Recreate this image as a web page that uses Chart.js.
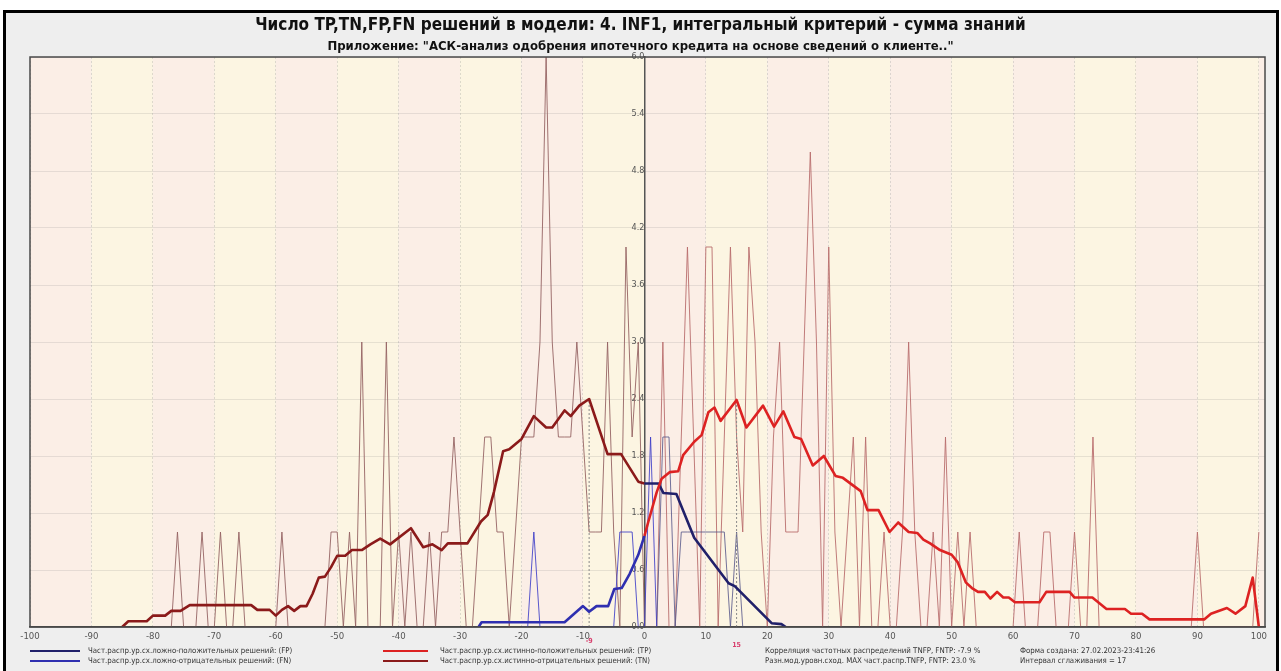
<!DOCTYPE html>
<html>
<head>
<meta charset="utf-8">
<script src="https://cdn.jsdelivr.net/npm/chart.js@4.4.1/dist/chart.umd.min.js"></script>
<style>
  html, body { margin: 0; padding: 0; background: #fff; }
  body { width: 1281px; height: 671px; position: relative; overflow: hidden;
         font-family: 'Liberation Sans Narrow', 'DejaVu Sans Condensed', 'Liberation Sans', sans-serif; }
  #frame { position: absolute; left: 3px; top: 10px; width: 1276px; height: 670px;
           border: 3px solid #000; border-bottom: none; background: #eeeeee; box-sizing: border-box; }
  #chart { position: absolute; left: 0; top: 0; }
  .title { position: absolute; left: 0; width: 1281px; text-align: center; font-weight: bold; color: #111; white-space: nowrap; }
  #t1 { top: 14px; font-size: 17px; }
  #t2 { top: 38px; font-size: 13px; }
  .leg { position: absolute; font-size: 7.8px; color: #333; white-space: nowrap; line-height: 10px; }
  .ln { position: absolute; height: 2px; }
</style>
</head>
<body>
<div id="frame"></div>
<canvas id="chart" width="1281" height="671"></canvas>
<div class="title" id="t1">Число TP,TN,FP,FN решений в модели: 4. INF1, интегральный критерий - сумма знаний</div>
<div class="title" id="t2">Приложение: "АСК-анализ одобрения ипотечного кредита на основе сведений о клиенте.."</div>

<div class="ln" style="left:30px;top:650px;width:50px;background:#20206a"></div>
<div class="ln" style="left:30px;top:660px;width:50px;background:#2f2fb0"></div>
<div class="leg" style="left:88px;top:646px">Част.распр.ур.сх.ложно-положительных решений: (FP)</div>
<div class="leg" style="left:88px;top:656px">Част.распр.ур.сх.ложно-отрицательных решений: (FN)</div>
<div class="ln" style="left:383px;top:650px;width:45px;background:#dd2222"></div>
<div class="ln" style="left:383px;top:660px;width:45px;background:#8b1a1a"></div>
<div class="leg" style="left:440px;top:646px">Част.распр.ур.сх.истинно-положительных решений: (TP)</div>
<div class="leg" style="left:440px;top:656px">Част.распр.ур.сх.истинно-отрицательных решений: (TN)</div>
<div class="leg" style="left:765px;top:646px">Корреляция частотных распределений TNFP, FNTP: -7.9 %</div>
<div class="leg" style="left:765px;top:656px">Разн.мод.уровн.сход. MAX част.распр.TNFP, FNTP: 23.0 %</div>
<div class="leg" style="left:1020px;top:646px">Форма создана: 27.02.2023-23:41:26</div>
<div class="leg" style="left:1020px;top:656px">Интервал сглаживания = 17</div>

<script>
// raw counts per integer level of similarity (thin lines)
const tnRawStart = -80;
const tnRaw = [
  0, 0, 0, 0, 1, 0, 0, 0, 1, 0,
  0, 1, 0, 0, 1, 0, 0, 0, 0, 0,
  0, 1, 0, 0, 0, 0, 0, 0, 0, 1,
  1, 0, 1, 0, 3, 0, 0, 0, 3, 0,
  1, 0, 1, 0, 0, 1, 0, 1, 1, 2,
  1, 0, 0, 1, 2, 2, 1, 1, 0, 1,
  2, 2, 2, 3, 6, 3, 2, 2, 2, 3,
  2, 1, 1, 1, 3, 1, 0, 4, 2, 3,
  0
];
const tpRawStart = 0;
const tpRaw = [
  0, 0, 0, 3, 0, 0, 2, 4, 2, 0,
  4, 4, 0, 2, 4, 2, 1, 4, 3, 1,
  0, 2, 3, 1, 1, 1, 3, 5, 3, 0,
  4, 1, 0, 1, 2, 0, 2, 0, 0, 1,
  0, 0, 1, 3, 1, 0, 0, 1, 0, 2,
  0, 1, 0, 1, 0, 0, 0, 0, 0, 0,
  0, 1, 0, 0, 0, 1, 1, 0, 0, 0,
  1, 0, 0, 2, 0, 0, 0, 0, 0, 0,
  0, 0, 0, 0, 0, 0, 0, 0, 0, 0,
  1, 0, 0, 0, 0, 0, 0, 0, 0, 0,
  1
];
const fnRawStart = -20;
const fnRaw = [0, 0, 1, 0, 0, 0, 0, 0, 0, 0, 0, 0, 0, 0, 0, 0, 1, 1, 1, 0, 0, 2, 0];
const fpRawStart = 0;
const fpRaw = [0, 0, 0, 2, 2, 0, 1, 1, 1, 1, 1, 1, 1, 1, 0, 1, 0, 0, 0, 0, 0];

// smoothed distributions (thick lines), read at their corners
const tnSmoothX = [-85, -84, -81, -80, -78, -77, -75.5, -74, -64, -63, -61, -60, -59, -58, -57, -56, -55, -54, -53, -52,
  -51, -50, -48.7, -47.6, -46, -44.6, -43, -41.4, -38, -36, -34.5, -33, -32, -28.8, -26.6, -25.5, -24.5, -23, -22, -20,
  -18, -16, -15, -13, -12, -10.6, -9, -6, -3.8, -1, 0];
const tnSmoothY = [0, 0.06, 0.06, 0.12, 0.12, 0.17, 0.17, 0.23, 0.23, 0.18, 0.18, 0.12, 0.18, 0.22, 0.17, 0.22, 0.22, 0.35, 0.52, 0.53,
  0.63, 0.75, 0.75, 0.81, 0.81, 0.87, 0.93, 0.87, 1.04, 0.84, 0.87, 0.81, 0.88, 0.88, 1.11, 1.18, 1.42, 1.85, 1.87, 1.98,
  2.22, 2.1, 2.1, 2.28, 2.22, 2.33, 2.4, 1.82, 1.82, 1.53, 1.51];
const fpSmoothX = [0, 2.3, 3.1, 5.2, 8.1, 13.7, 14.7, 20.7, 22.3, 23];
const fpSmoothY = [1.51, 1.51, 1.41, 1.4, 0.94, 0.46, 0.43, 0.04, 0.03, 0];
const fnSmoothX = [-27, -26.5, -13, -10, -9, -7.8, -5.9, -4.9, -3.7, -2.4, -1, 0];
const fnSmoothY = [0, 0.05, 0.05, 0.22, 0.16, 0.22, 0.22, 0.4, 0.41, 0.56, 0.76, 0.96];
const tpSmoothX = [0, 0.6, 2, 2.8, 4.1, 5.5, 6.3, 8.1, 9.3, 10.4, 11.4, 12.4, 15, 16.6, 19.3, 21.1, 22.6, 24.4, 25.5, 27.4,
  29.2, 31.1, 32.3, 35.2, 36.3, 38.1, 39.9, 41.3, 43, 44.4, 45.4, 46.5, 48.1, 50, 51, 52.3, 53.3, 54.3, 55.4, 56.3,
  57.4, 58.4, 59.3, 60.3, 64.3, 65.4, 69.2, 70, 72.9, 75.2, 78.2, 79.2, 81, 82.2, 91.1, 92.2, 94.8, 96.2, 97.8, 99, 100];
const tpSmoothY = [0.96, 1.1, 1.42, 1.56, 1.63, 1.64, 1.81, 1.95, 2.02, 2.26, 2.31, 2.17, 2.39, 2.1, 2.33, 2.11, 2.27, 2.0, 1.98, 1.7,
  1.8, 1.59, 1.57, 1.43, 1.23, 1.23, 1.0, 1.1, 1.0, 0.99, 0.92, 0.88, 0.81, 0.76, 0.68, 0.47, 0.41, 0.37, 0.37, 0.3,
  0.37, 0.31, 0.31, 0.26, 0.26, 0.37, 0.37, 0.31, 0.31, 0.19, 0.19, 0.14, 0.14, 0.08, 0.08, 0.14, 0.2, 0.14, 0.22, 0.52, 0];

// modes of the two smoothed distributions
const modeX = [-9, 15];
const modeY = [2.4, 2.39];
const modeLabels = ['-9', '15'];

const FONT = "'Liberation Sans Narrow', 'DejaVu Sans Condensed', 'Liberation Sans', sans-serif";

//turn a start level + counts into points
const seq = (start, vals) => vals.map((v, i) => ({ x: start + i, y: v }));
//turn x list + y list into points
const pairs = (xs, ys) => xs.map((x, i) => ({ x: x, y: ys[i] }));

const thick = (label, color, data) => ({
  label, data, borderColor: color, borderWidth: 2.6, pointRadius: 0, tension: 0, fill: false, borderJoinStyle: 'round'
});
const thin = (label, color, data) => ({
  label, data, borderColor: color, borderWidth: 1, pointRadius: 0, tension: 0, fill: false
});
const modeLine = (i) => ({
  label: 'mode ' + modeLabels[i],
  data: [{ x: modeX[i], y: 0 }, { x: modeX[i], y: modeY[i] }],
  borderColor: '#8a8a8a', borderWidth: 1, borderDash: [2, 2], pointRadius: 0, fill: false
});

//plot background: alternating bands every 10 levels, plus frame and mode labels
const bandsPlugin = {
  id: 'bands',
  beforeDraw(chart) {
    const { ctx, chartArea: a, scales: { x } } = chart;
    ctx.save();
    for (let v = -100, k = 0; v < 101; v += 10, k++) {
      const x0 = x.getPixelForValue(v);
      const x1 = x.getPixelForValue(Math.min(v + 10, 101));
      ctx.fillStyle = k % 2 === 0 ? '#fbeee6' : '#fcf5e2';
      ctx.fillRect(x0, a.top, x1 - x0, a.bottom - a.top);
    }
    ctx.restore();
  },
  afterDraw(chart) {
    const { ctx, chartArea: a, scales: { x } } = chart;
    ctx.save();
    ctx.strokeStyle = '#4a4a4a';
    ctx.lineWidth = 1.5;
    ctx.strokeRect(a.left, a.top, a.right - a.left, a.bottom - a.top);
    ctx.fillStyle = '#d8406e';
    ctx.font = 'bold 7px ' + FONT;
    ctx.textAlign = 'center';
    modeLabels.forEach((t, i) => {
      ctx.fillText(t, x.getPixelForValue(modeX[i]), a.bottom + 16 + i * 4);
    });
    ctx.restore();
  }
};

new Chart(document.getElementById('chart').getContext('2d'), {
  type: 'line',
  data: {
    datasets: [
      thick('TP', '#dd2222', pairs(tpSmoothX, tpSmoothY)),
      thick('FN', '#2f2fb0', pairs(fnSmoothX, fnSmoothY)),
      thick('FP', '#20206a', pairs(fpSmoothX, fpSmoothY)),
      thick('TN', '#8b1a1a', pairs(tnSmoothX, tnSmoothY)),
      modeLine(0),
      modeLine(1),
      thin('FN raw', 'rgba(60,60,200,0.85)', seq(fnRawStart, fnRaw)),
      thin('FP raw', 'rgba(90,90,140,0.85)', seq(fpRawStart, fpRaw)),
      thin('TP raw', 'rgba(185,110,110,0.9)', seq(tpRawStart, tpRaw)),
      thin('TN raw', 'rgba(150,100,100,0.9)', seq(tnRawStart, tnRaw)),
    ]
  },
  options: {
    responsive: false,
    animation: false,
    layout: { padding: { left: 30, right: 16, top: 57, bottom: 0 } },
    plugins: {
      legend: { display: false },
      tooltip: { enabled: false },
      title: { display: false }
    },
    scales: {
      x: {
        type: 'linear',
        min: -100,
        max: 101,
        afterBuildTicks: (s) => { s.ticks = s.ticks.filter(t => t.value % 10 === 0); },
        afterFit: (s) => { s.height = 44; },
        ticks: { stepSize: 10, includeBounds: false, color: '#555', font: { size: 9.5, family: FONT }, padding: 4, maxRotation: 0, autoSkip: false },
        grid: { color: 'rgba(120,120,120,0.22)', drawTicks: false },
        border: { color: '#444', width: 1.5, dash: [2, 2] }
      },
      y: {
        min: 0,
        max: 6,
        position: { x: 0 },
        ticks: { stepSize: 0.6, callback: (v) => v.toFixed(1), color: '#555', font: { size: 9, family: FONT }, padding: 3 },
        grid: { color: 'rgba(120,120,120,0.16)', drawTicks: false },
        border: { color: '#555', width: 1.5 }
      }
    }
  },
  plugins: [bandsPlugin]
});
</script>
</body>
</html>
